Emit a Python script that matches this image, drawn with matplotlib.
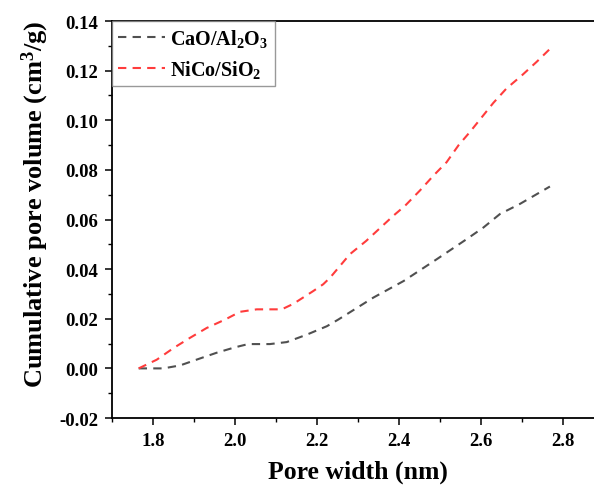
import matplotlib
matplotlib.use("Agg")
import matplotlib.pyplot as plt
from matplotlib.ticker import MultipleLocator, FormatStrFormatter

# pore width (nm) vs cumulative pore volume (cm3/g)
cao_x = [1.765, 1.825, 1.866, 1.911, 1.955, 2.000, 2.032, 2.085, 2.126, 2.175,
         2.224, 2.252, 2.337, 2.411, 2.492, 2.565, 2.606, 2.646, 2.695, 2.768]
cao_y = [0.0, 0.0, 0.0012, 0.0038, 0.0063, 0.0085, 0.0098, 0.0098, 0.0106, 0.0136,
         0.0170, 0.0197, 0.0285, 0.0352, 0.0440, 0.0521, 0.0568, 0.0622, 0.0663, 0.0733]

nico_x = [1.765, 1.809, 1.850, 1.890, 1.931, 1.976, 2.012, 2.053, 2.114, 2.142,
          2.191, 2.215, 2.232, 2.280, 2.320, 2.386, 2.415, 2.451, 2.484, 2.516,
          2.545, 2.573, 2.630, 2.662, 2.699, 2.736, 2.772]
nico_y = [0.0, 0.0035, 0.0082, 0.0123, 0.0163, 0.0197, 0.0228, 0.0238, 0.0238, 0.0260,
          0.0312, 0.0339, 0.0366, 0.0460, 0.0514, 0.0615, 0.0656, 0.0717, 0.0777, 0.0831,
          0.0899, 0.0953, 0.1070, 0.1128, 0.1180, 0.1236, 0.1294]

labels = ["CaO/Al$_2$O$_3$", "NiCo/SiO$_2$"]

plt.rcParams.update({
    "font.family": "Liberation Serif",
    "font.weight": "bold",
    "mathtext.fontset": "custom",
    "mathtext.rm": "Liberation Serif:bold",
    "mathtext.it": "Liberation Serif:italic:bold",
    "mathtext.bf": "Liberation Serif:bold",
    "axes.unicode_minus": False,
})

fig = plt.figure(figsize=(5.94, 4.89), dpi=100)
ax = fig.add_axes([0.1886, 0.1431, 0.8283, 0.8119])

dash = (0, (4.0, 3.0))
ax.plot(cao_x, cao_y, color="#505050", lw=1.5, linestyle=dash, label=labels[0])
ax.plot(nico_x, nico_y, color="#ff3c3c", lw=1.5, linestyle=dash, label=labels[1])

ax.set_xlim(1.7, 2.9)
ax.set_ylim(-0.02, 0.14)
ax.xaxis.set_major_locator(MultipleLocator(0.2))
ax.xaxis.set_minor_locator(MultipleLocator(0.1))
ax.yaxis.set_major_locator(MultipleLocator(0.02))
ax.yaxis.set_minor_locator(MultipleLocator(0.01))
ax.xaxis.set_major_formatter(FormatStrFormatter("%.1f"))
ax.yaxis.set_major_formatter(FormatStrFormatter("%.2f"))

ax.tick_params(which="major", direction="out", length=5, width=1.1, labelsize=13.5, pad=5)
ax.tick_params(which="minor", direction="out", length=3, width=1.0)
for s in ax.spines.values():
    s.set_linewidth(1.3)

ax.set_xlabel("Pore width (nm)", fontsize=18.5, fontweight="bold", labelpad=8)
ax.set_ylabel("Cumulative pore volume (cm$^3$/g)", fontsize=19, fontweight="bold", labelpad=6)
ax.yaxis.label.set_y(0.54)

leg = ax.legend(loc="upper left", fontsize=14.5, frameon=True, fancybox=False,
                borderaxespad=0, handlelength=2.35, handletextpad=0.25,
                borderpad=0.3, labelspacing=0.45)
leg.get_frame().set_edgecolor("#808080")
leg.get_frame().set_linewidth(1.0)

fig.savefig("out.png", dpi=100)
